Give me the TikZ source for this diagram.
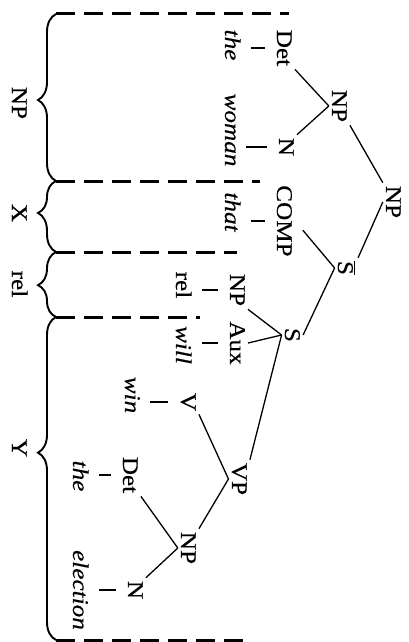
\documentclass[tikz,border=0pt]{standalone}
\usepackage{fontspec}
\setmainfont{Liberation Serif}[FakeStretch=1.12,FakeBold=0.4]
\usetikzlibrary{decorations.pathreplacing}
\begin{document}
\begin{tikzpicture}[x=1pt,y=-1pt,
  lab/.style={rotate=-90, anchor=base, inner sep=3pt, font=\fontsize{22.5}{26}\selectfont},
  leaf/.style={lab, font=\fontsize{22.5}{26}\selectfont\itshape},
  branch/.style={line width=1.3pt},
  stem/.style={line width=1.4pt, shorten <=7pt, shorten >=9pt},
  dashline/.style={line width=3pt, dash pattern=on 19pt off 9pt},
  bracepath/.style={line width=1.9pt, decorate, decoration={brace, amplitude=18pt, aspect=#1}},
]
\useasboundingbox (0,0) rectangle (409,642);

% tree nodes
\node[lab]  (Det1)  at (277,48)  {Det};
\node[leaf] (the1)  at (225,45)  {the};
\node[lab]  (NP1)   at (332,106) {NP};
\node[lab]  (N1)    at (279,147) {N};
\node[leaf] (woman) at (225,130) {woman};
\node[lab]  (NPtop) at (386,202) {NP};
\node[lab]  (Sbar)  at (338,268) {\ensuremath{\overline{\hbox{S}}}};
\node[lab]  (COMP)  at (277,221) {COMP};
\node[leaf] (that)  at (225,212) {that};
\node[lab]  (NP2)   at (230,290) {NP};
\node[lab]  (rel)   at (176,285) {rel};
\node[lab]  (S)     at (285,335) {S};
\node[lab]  (Aux)   at (230,343) {Aux};
\node[leaf] (will)  at (176,345) {will};
\node[lab]  (V)     at (181,402) {V};
\node[leaf] (win)   at (125,395) {win};
\node[lab]  (VP)    at (232,479) {VP};
\node[lab]  (Det2)  at (123,475) {Det};
\node[leaf] (the2)  at (73,476)  {the};
\node[lab]  (NP3)   at (181,548) {NP};
\node[lab]  (N2)    at (128,590) {N};
\node[leaf] (elec)  at (73,590)  {election};

% branches
\draw[branch] (Det1.north east) -- (NP1.south);
\draw[branch] (N1.north west) -- (NP1.south);
\draw[branch] (NP1.north east) -- (NPtop.south west);
\draw[branch] (NPtop.south) -- (Sbar.north west);
\draw[branch, shorten <=12pt] (COMP.north) -- (Sbar.south);
\draw[branch] (Sbar.south) -- (S.north);
\draw[branch] (NP2.north east) -- (S.south);
\draw[branch] (Aux.north) -- (S.south);
\draw[branch] (S.south) -- (VP.north west);
\draw[branch] (V.north east) -- (VP.south);
\draw[branch] (VP.south) -- (NP3.north west);
\draw[branch] (Det2.north east) -- (NP3.south);
\draw[branch] (N2.north west) -- (NP3.south);

% stems to words
\draw[stem] (Det1.south -| the1.north) -- (Det1.south);
\draw[stem] (N1.south -| woman.north) -- (N1.south);
\draw[stem] (COMP.south -| that.north) -- (COMP.south);
\draw[stem] (NP2.south -| rel.north) -- (NP2.south);
\draw[stem] (Aux.south -| will.north) -- (Aux.south);
\draw[stem] (V.south -| win.north) -- (V.south);
\draw[stem] (Det2.south -| the2.north) -- (Det2.south);
\draw[stem] (N2.south -| elec.north) -- (N2.south);

% brace / dash coordinates
\coordinate (c0) at (56,14);
\coordinate (c1) at (56,181);
\coordinate (c2) at (56,252);
\coordinate (c3) at (56,317);
\coordinate (c4) at (56,640);
\coordinate (e0) at (289,14);
\coordinate (e1) at (260,181);
\coordinate (e2) at (237,252);
\coordinate (e3) at (200,317);
\coordinate (e4) at (245,640);

\draw[dashline] (c0) -- (e0);
\draw[dashline] (c1) -- (e1);
\draw[dashline] (c2) -- (e2);
\draw[dashline] (c3) -- (e3);
\draw[dashline] (c4) -- (e4);

\draw[bracepath=0.485] (c1) -- (c0);
\draw[bracepath=0.55]  (c2) -- (c1);
\draw[bracepath=0.49]  (c3) -- (c2);
\draw[bracepath=0.58]  (c4) -- (c3);

% brace labels
\node[lab] (lNP)  at (12,103) {NP};
\node[lab] (lX)   at (12,213) {X};
\node[lab] (lrel) at (12,284) {rel};
\node[lab] (lY)   at (12,448) {Y};
\end{tikzpicture}
\end{document}
